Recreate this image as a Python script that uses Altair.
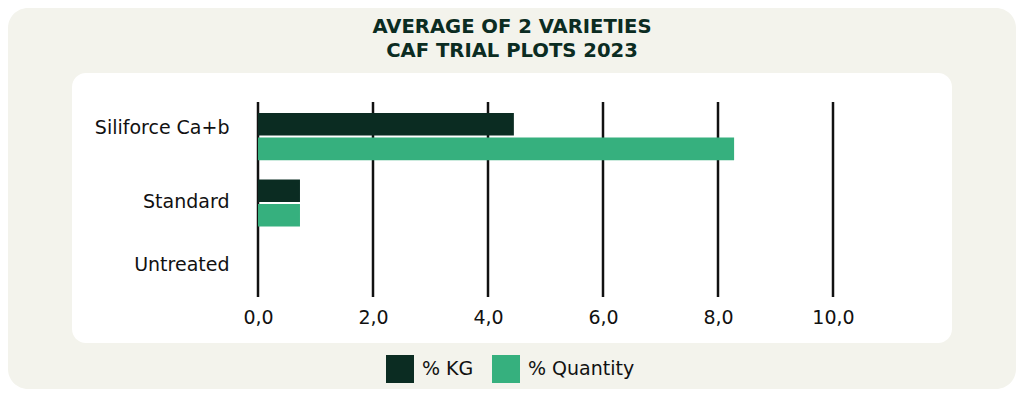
import altair as alt
import pandas as pd

categories = ["Siliforce Ca+b", "Standard", "Untreated"]
kg_values = [4.45, 0.73, 0.0]
qty_values = [8.28, 0.73, 0.0]
series_names = ["% KG", "% Quantity"]
series_colors = ["#0B2C22", "#36B07E"]
tick_values = [0, 2, 4, 6, 8, 10]
title_lines = ["AVERAGE OF 2 VARIETIES", "CAF TRIAL PLOTS 2023"]

rows = []
for c, k, q in zip(categories, kg_values, qty_values):
    rows.append({"category": c, "series": series_names[0], "value": k})
    rows.append({"category": c, "series": series_names[1], "value": q})
df = pd.DataFrame(rows)
grid_df = pd.DataFrame({"value": tick_values})

W, H = 575, 198
FONT = "DejaVu Sans"

xscale = alt.Scale(domain=[0, 10], nice=False)
x_axis = alt.Axis(
    values=tick_values,
    title=None,
    grid=False,
    domain=False,
    ticks=False,
    zindex=1,
    labelExpr="replace(format(datum.value, '.1f'), '.', ',')",
    labelFont=FONT,
    labelFontSize=19,
    labelColor="#111111",
    labelPadding=6,
    labelFlush=False,
)
one = pd.DataFrame({"a": [0]})

beige = alt.Chart(one).mark_rect(fill="#F3F3EC", cornerRadius=20).encode(
    x=alt.value(-250), x2=alt.value(758), y=alt.value(-96), y2=alt.value(285)
)

panel = alt.Chart(one).mark_rect(fill="white", cornerRadius=14).encode(
    x=alt.value(-186), x2=alt.value(694), y=alt.value(-31), y2=alt.value(239)
)

title = alt.Chart(one).mark_text(
    text=title_lines,
    font="DejaVu Sans",
    fontSize=19.6,
    fontWeight="bold",
    color="#0B2C22",
    lineHeight=23.4,
    align="center",
    baseline="alphabetic",
).encode(x=alt.value(254), y=alt.value(-70.7))

grid = alt.Chart(grid_df).mark_rule(color="#111111", strokeWidth=2.5).encode(
    x=alt.X("value:Q", scale=xscale, axis=x_axis),
    y=alt.value(-2),
    y2=alt.value(193),
)

label_offset = {
    "condition": [
        {"test": "datum.value === 'Siliforce Ca+b'", "value": -9},
        {"test": "datum.value === 'Standard'", "value": -1},
    ],
    "value": -4,
}

bars = alt.Chart(df).mark_bar().encode(
    x=alt.X("value:Q", scale=xscale, axis=x_axis),
    y=alt.Y(
        "category:N",
        sort=categories,
        scale=alt.Scale(paddingInner=0.29, paddingOuter=0.136),
        axis=alt.Axis(
            title=None,
            domain=False,
            ticks=False,
            grid=False,
            zindex=1,
            labelFont=FONT,
            labelFontSize=19,
            labelColor="#111111",
            labelPadding=29,
            labelOffset=label_offset,
        ),
    ),
    yOffset=alt.YOffset("series:N", sort=series_names, scale=alt.Scale(paddingInner=0.08)),
    color=alt.Color(
        "series:N",
        sort=series_names,
        scale=alt.Scale(domain=series_names, range=series_colors),
        legend=alt.Legend(
            title=None,
            orient="none",
            direction="horizontal",
            legendX=128,
            legendY=251,
            padding=0,
            symbolType="square",
            symbolSize=784,
            symbolStrokeWidth=0,
            labelFont=FONT,
            labelFontSize=19,
            labelColor="#111111",
            labelOffset=8,
            columnPadding=18,
        ),
    ),
)

chart = alt.layer(beige, panel, title, grid, bars).properties(
    width=W,
    height=H,
    padding={"left": 250, "top": 96, "right": 183, "bottom": 87},
    autosize=alt.AutoSizeParams(type="none"),
    background="white",
).configure_view(stroke=None)

chart.save("out.html", embed_options={"renderer": "svg", "actions": False})
